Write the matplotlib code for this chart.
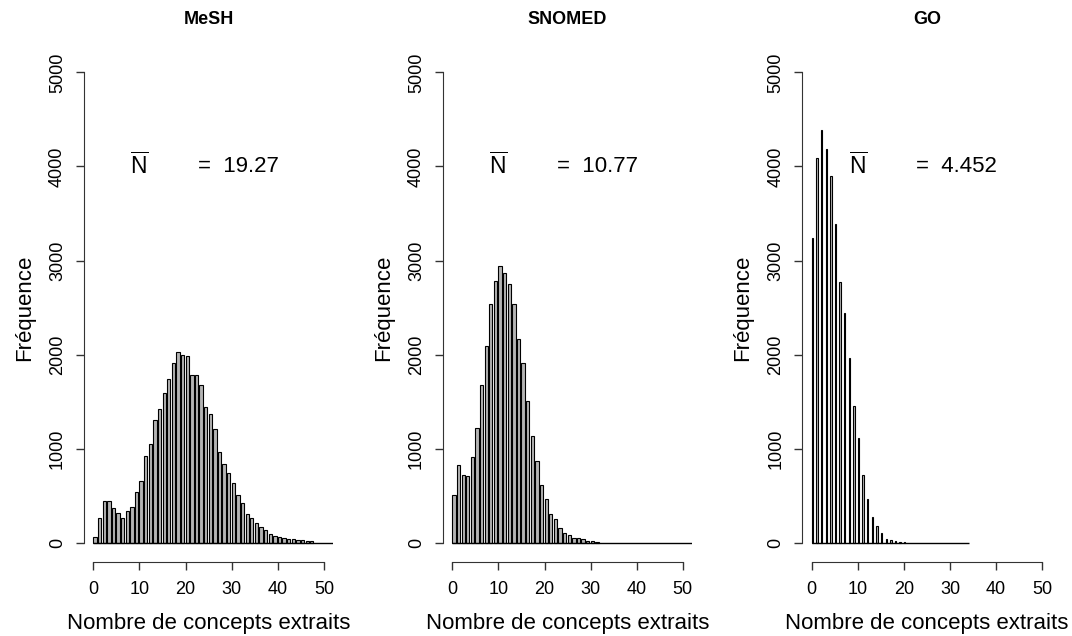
import numpy as np
import matplotlib
matplotlib.use('Agg')
import matplotlib.pyplot as plt

plt.rcParams['font.family'] = ['Liberation Sans', 'DejaVu Sans']
plt.rcParams['mathtext.fontset'] = 'custom'
plt.rcParams['mathtext.rm'] = 'Liberation Sans'

# données (fréquence par nombre de concepts)
titres = ['MeSH', 'SNOMED', 'GO']
moyennes = ['19.27', '10.77', '4.452']

mesh = [60, 262, 450, 450, 369, 319, 262, 337, 379, 539,
        663, 922, 1046, 1309, 1426, 1596, 1741, 1911, 2025, 1996,
        1982, 1780, 1780, 1681, 1440, 1365, 1209, 965, 840, 741,
        635, 511, 422, 309, 262, 209, 167, 138, 96, 71,
        67, 53, 43, 39, 32, 28, 25, 21]
snomed = [511, 823, 723, 709, 911, 1223, 1681, 2096, 2539, 2784,
          2940, 2869, 2755, 2539, 2167, 1911, 1511, 1135, 869, 610,
          468, 309, 255, 156, 106, 85, 53, 53, 39, 25,
          18, 14]
go = [3245, 4085, 4387, 4184, 3901, 3387, 2773, 2443, 1968, 1457,
      1113, 723, 468, 270, 184, 106, 43, 28, 18, 11, 7]
series = [mesh, snomed, go]
fin_ligne = [52, 52, 34]
largeurs = [0.72, 0.72, 0.3]

fig = plt.figure(figsize=(10.72, 6.36), dpi=100)
gauches = [0.0785, 0.4133, 0.7486]

for i in range(3):
    ax = fig.add_axes([gauches[i], 0.1168, 0.2323, 0.799])
    y = series[i]
    x = np.arange(len(y))
    ax.bar(x, y, width=largeurs[i], align='edge', color='#b4b4b4',
           edgecolor='black', linewidth=0.8)
    ax.hlines(0, 0, fin_ligne[i], color='black', linewidth=1)

    # texte de la moyenne
    ax.text(10, 4000, r'$\overline{\mathrm{N}}$', fontsize=16.5,
            ha='center', va='center')
    ax.text(22.7, 4000, '=  ' + moyennes[i], fontsize=16,
            ha='left', va='center')

    # axes à la manière de R
    ax.set_xlim(-2, 52)
    ax.set_ylim(-200, 5200)
    for s in ['top', 'right']:
        ax.spines[s].set_visible(False)
    ax.spines['left'].set_bounds(0, 5000)
    ax.spines['bottom'].set_bounds(0, 50)
    ax.spines['left'].set_color('#333333')
    ax.spines['bottom'].set_color('#333333')
    ax.set_xticks(range(0, 51, 10))
    ax.set_yticks(range(0, 5001, 1000))
    ax.set_yticklabels([str(v) for v in range(0, 5001, 1000)],
                       rotation=90, va='center')
    ax.tick_params(axis='both', length=6, width=1, labelsize=13,
                   colors='#333333', labelcolor='black')
    ax.tick_params(axis='x', pad=8)
    ax.tick_params(axis='y', pad=7)

    ax.set_title(titres[i], fontsize=13, fontweight='bold', pad=0,
                 y=1.0 + 30 / 508)
    ax.set_xlabel('Nombre de concepts extraits', fontsize=16, labelpad=11)
    ax.set_ylabel('Fréquence', fontsize=16, labelpad=10)

plt.savefig('out.png', dpi=100)
